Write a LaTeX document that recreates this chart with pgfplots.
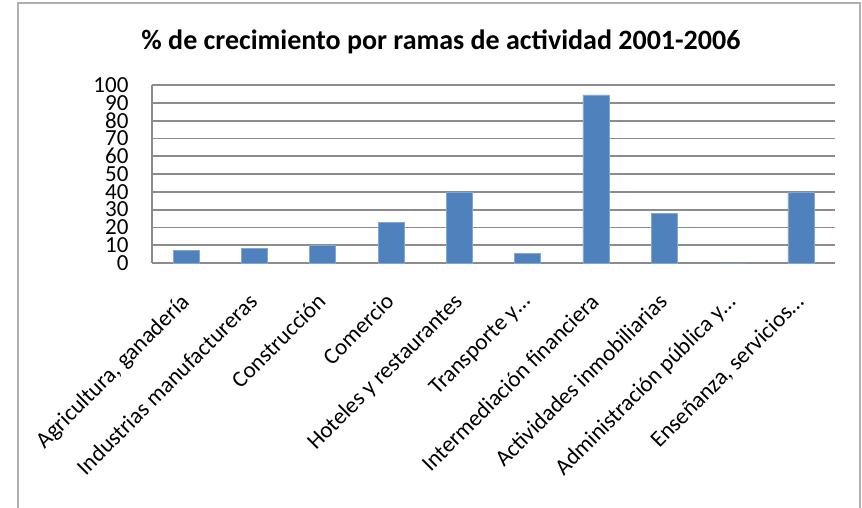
\documentclass[border=0pt]{standalone}
\usepackage{pgfplots}
\pgfplotsset{compat=1.18}
\usepackage{fontspec}
\setmainfont{Carlito}
\definecolor{barblue}{HTML}{4F81BD}
\definecolor{gridgray}{HTML}{8C8C8C}
\begin{document}
\begin{tikzpicture}
\useasboundingbox (0,0) rectangle (862pt,507pt);
\draw[color=gridgray!70, line width=1.2pt] (18pt,-5pt) -- (18pt,504pt) -- (860pt,504pt) -- (860pt,-5pt);
\node[font=\fontsize{28}{32}\selectfont\bfseries, anchor=base] at (441pt,457pt) {\% de crecimiento por ramas de actividad 2001-2006};
\begin{axis}[
  at={(152pt,244pt)}, anchor=south west,
  width=683pt, height=178pt, scale only axis,
  xmin=-0.5, xmax=9.5, ymin=0, ymax=100,
  ytick={0,10,...,100},
  xtick={0,...,9},
  xticklabels={{Agricultura, ganadería}, Industrias manufactureras, Construcción, Comercio, Hoteles y restaurantes, Transporte y…, Intermediación financiera, Actividades inmobiliarias, Administración pública y…, {Enseñanza, servicios…}},
  axis x line=bottom, axis y line=left,
  axis line style={draw=gridgray, line width=1.8pt, -},
  major tick length=0pt,
  ymajorgrids, grid style={draw=gridgray, line width=1.8pt},
  /pgf/number format/assume math mode=true,
  yticklabel style={font=\fontsize{23}{23}\selectfont, xshift=-20pt},
  xticklabel style={font=\fontsize{23}{23}\selectfont, rotate=45, anchor=north east, xshift=-22pt, yshift=-12pt},
  ybar, bar width=26pt,
]
\addplot[fill=barblue, draw=barblue!70!white, line width=0.6pt] coordinates {
(0,6.9) (1,8.0) (2,10.1) (3,22.8) (4,39.6) (5,5.2) (6,94.4) (7,27.7) (8,0) (9,39.6)
};
\end{axis}
\end{tikzpicture}
\end{document}
